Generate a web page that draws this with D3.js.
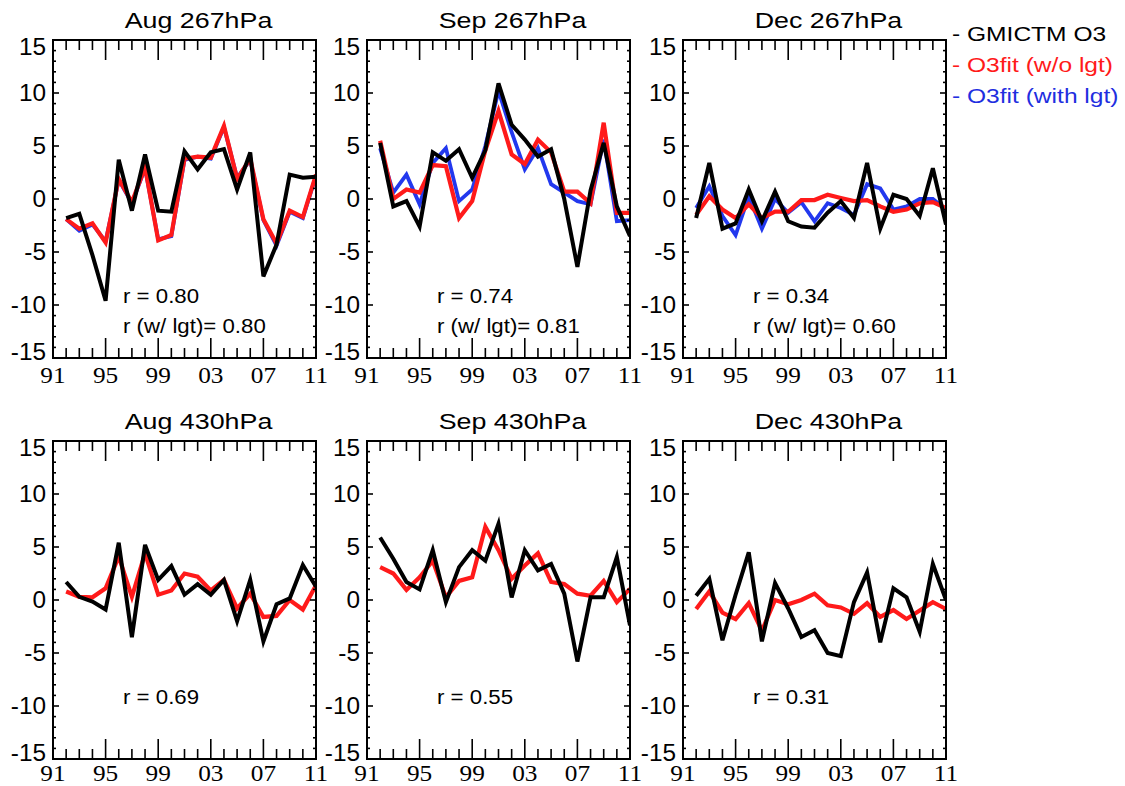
<!DOCTYPE html>
<html>
<head>
<meta charset="utf-8">
<script src="https://cdn.jsdelivr.net/npm/d3@7"></script>
<style>
  body { margin: 0; background: #fff; }
  svg { display: block; }
  .sans { font-family: "Liberation Sans", Arial, Helvetica, sans-serif; }
  .serif { font-family: "Liberation Serif", "Times New Roman", serif; }
</style>
</head>
<body>
<svg id="chart" width="1125" height="786"></svg>
<script>
// years of the anomalies (1992-2011)
var years = d3.range(1992, 2012);

// 267 hPa
var augGmi267 = [-1.8, -1.4, -5.3, -9.6, 3.7, -1.1, 4.2, -1.1, -1.2, 4.5, 2.8, 4.4, 4.7, 0.9, 4.4, -7.3, -4.3, 2.3, 2.0, 2.1];
var augFit267 = [-1.9, -2.8, -2.3, -4.1, 1.9, -0.3, 3.0, -3.9, -3.4, 3.8, 4.0, 3.9, 6.9, 1.9, 3.8, -1.9, -4.2, -1.1, -1.7, 2.3];
var augFitL267 = [-1.9, -3.0, -2.4, -4.0, 1.8, -0.4, 2.9, -3.8, -3.5, 3.7, 4.0, 3.8, 6.8, 2.0, 3.7, -2.0, -4.4, -1.2, -1.8, 2.2];

var sepGmi267 = [5.3, -0.7, -0.2, -2.6, 4.4, 3.6, 4.7, 2.0, 4.6, 10.9, 7.0, 5.6, 4.0, 4.7, 0.0, -6.4, 0.8, 5.3, -0.7, -3.5];
var sepFit267 = [5.5, 0.0, 0.9, 0.6, 3.2, 3.1, -1.8, -0.2, 4.6, 8.3, 4.2, 3.3, 5.6, 4.4, 0.7, 0.7, -0.4, 7.2, -1.3, -1.3];
var sepFitL267 = [4.8, 0.6, 2.3, -0.5, 3.4, 4.8, -0.2, 0.9, 5.0, 10.2, 6.3, 2.8, 4.8, 1.4, 0.6, -0.2, -0.5, 5.6, -2.1, -2.0];

var decGmi267 = [-1.8, 3.4, -2.8, -2.3, 0.9, -2.1, 0.7, -2.1, -2.6, -2.7, -1.3, -0.2, -1.8, 3.4, -2.8, 0.4, 0.0, -1.6, 2.9, -2.4];
var decFit267 = [-1.5, 0.25, -1.0, -1.8, -0.5, -1.8, -1.2, -1.2, -0.1, -0.1, 0.4, 0.1, -0.2, -0.1, -0.7, -1.2, -1.0, -0.4, -0.3, -0.85];
var decFitL267 = [-0.85, 1.2, -1.6, -3.4, 0.25, -2.8, 0.0, -1.3, -0.3, -2.1, -0.4, -0.85, -1.5, 1.4, 1.0, -1.0, -0.7, 0.0, 0.0, -1.0];

// 430 hPa
var augGmi430 = [1.7, 0.3, -0.15, -0.9, 5.4, -3.5, 5.2, 1.9, 3.2, 0.5, 1.5, 0.5, 1.9, -2.0, 1.9, -3.9, -0.4, 0.15, 3.3, 1.25];
var augFit430 = [0.8, 0.3, 0.25, 1.1, 4.1, 0.3, 4.4, 0.5, 0.9, 2.5, 2.2, 0.9, 1.9, -0.8, 0.6, -1.6, -1.5, 0.0, -0.9, 1.4];

var sepGmi430 = [5.9, 3.9, 1.7, 1.0, 4.7, -0.2, 3.1, 4.7, 3.7, 7.2, 0.25, 4.7, 2.8, 3.4, 0.6, -5.8, 0.25, 0.25, 4.05, -2.4];
var sepFit430 = [3.1, 2.5, 0.95, 2.15, 3.7, 0.25, 1.8, 2.15, 6.9, 4.7, 2.0, 3.25, 4.4, 1.7, 1.5, 0.6, 0.4, 1.8, -0.2, 1.05];

var decGmi430 = [0.4, 2.0, -3.8, 0.5, 4.5, -3.9, 1.6, -0.8, -3.5, -2.85, -5.0, -5.3, -0.2, 2.6, -4.0, 1.1, 0.25, -3.0, 3.4, 0.0];
var decFit430 = [-0.85, 0.8, -1.2, -1.8, -0.3, -2.9, 0.0, -0.4, 0.0, 0.6, -0.5, -0.7, -1.3, -0.3, -1.6, -0.95, -1.8, -1.0, -0.2, -0.85];

// panel titles and correlation notes
var titles = ['Aug 267hPa', 'Sep 267hPa', 'Dec 267hPa', 'Aug 430hPa', 'Sep 430hPa', 'Dec 430hPa'];
var corr = ['0.80', '0.74', '0.34', '0.69', '0.55', '0.31'];
var corrLgt = ['0.80', '0.81', '0.60', null, null, null];

var legendLabels = ['- GMICTM O3', '- O3fit (w/o lgt)', '- O3fit (with lgt)'];
var legendColors = ['#000', '#ff1a1a', '#1f2fe0'];

var panels = [
  { gmi: augGmi267, fit: augFit267, fitL: augFitL267 },
  { gmi: sepGmi267, fit: sepFit267, fitL: sepFitL267 },
  { gmi: decGmi267, fit: decFit267, fitL: decFitL267 },
  { gmi: augGmi430, fit: augFit430, fitL: null },
  { gmi: sepGmi430, fit: sepFit430, fitL: null },
  { gmi: decGmi430, fit: decFit430, fitL: null }
];

var svg = d3.select('#chart');

var colLeft = [53, 367, 683],
  rowTop = [40, 441],
  pw = 263,
  ph = 318;

var xTickVals = d3.range(1991, 2012);
var xLabels = ['91', '95', '99', '03', '07', '11'];
var yTickVals = d3.range(-15, 16);

// the original fonts are a bit wider than Liberation Sans, so stretch a little
function label(sel, x, y, txt, size, stretch, anchor) {
  return sel.append('text')
    .attr('class', 'sans')
    .attr('transform', `translate(${x},${y}) scale(${stretch},1)`)
    .attr('text-anchor', anchor || 'start')
    .attr('font-size', size)
    .text(txt);
}

panels.forEach(function(p, i) {
  var col = i % 3, row = Math.floor(i / 3);
  var g = svg.append('g')
    .attr('transform', `translate(${colLeft[col]},${rowTop[row]})`);

  var x = d3.scaleLinear().domain([1991, 2011]).range([0, pw]);
  var y = d3.scaleLinear().domain([-15, 15]).range([ph, 0]);

  var line = d3.line()
    .x((d, k) => x(years[k]))
    .y(d => y(d));

  var clip = 'clip' + i;
  g.append('clipPath').attr('id', clip)
    .append('rect').attr('width', pw).attr('height', ph);

  var lines = g.append('g').attr('clip-path', `url(#${clip})`);

  // blue under red under black, as in the original plot
  if (p.fitL) {
    lines.append('path').datum(p.fitL)
      .attr('d', line).attr('fill', 'none')
      .attr('stroke', '#2238ee').attr('stroke-width', 3.8);
  }
  lines.append('path').datum(p.fit)
    .attr('d', line).attr('fill', 'none')
    .attr('stroke', '#ff1a1a').attr('stroke-width', 4.2);
  lines.append('path').datum(p.gmi)
    .attr('d', line).attr('fill', 'none')
    .attr('stroke', '#000').attr('stroke-width', 4);

  // ticks: bottom/top every year, long every 4 years
  var ticks = g.append('g').attr('stroke', '#000').attr('stroke-width', 1.6);
  xTickVals.forEach(function(yr) {
    var len = (yr - 1991) % 4 === 0 ? 20 : 10;
    ticks.append('line').attr('x1', x(yr)).attr('x2', x(yr)).attr('y1', ph).attr('y2', ph - len);
    ticks.append('line').attr('x1', x(yr)).attr('x2', x(yr)).attr('y1', 0).attr('y2', len);
  });
  // ticks: left/right every unit, long every 5
  yTickVals.forEach(function(v) {
    var len = v % 5 === 0 ? 6 : 3;
    ticks.append('line').attr('x1', 0).attr('x2', len).attr('y1', y(v)).attr('y2', y(v));
    ticks.append('line').attr('x1', pw).attr('x2', pw - len).attr('y1', y(v)).attr('y2', y(v));
  });

  g.append('rect')
    .attr('width', pw).attr('height', ph)
    .attr('fill', 'none').attr('stroke', '#000').attr('stroke-width', 2);

  // y labels
  [-15, -10, -5, 0, 5, 10, 15].forEach(function(v) {
    var shift = v === 15 ? 7 : (v === -15 ? -6 : 0);
    label(g, -7, y(v) + shift + 8, v, 23, 1.06, 'end');
  });

  // x labels (bottom row sits right at the page edge, nudge it up a bit)
  var xLabY = row === 0 ? ph + 25 : ph + 22;
  xLabels.forEach(function(lab, k) {
    g.append('text').attr('class', 'serif')
      .attr('transform', `translate(${x(1991 + k * 4)},${xLabY}) scale(1.1,1)`)
      .attr('text-anchor', 'middle')
      .attr('font-size', 23)
      .text(lab);
  });

  label(g, pw / 2 + 14, -12, titles[i], 22, 1.22, 'middle');

  label(g, 70, 263, 'r = ' + corr[i], 21, 1.06);
  if (corrLgt[i]) {
    label(g, 70, 293, 'r (w/ lgt)= ' + corrLgt[i], 21, 1.06);
  }
});

// legend
var legend = svg.append('g').attr('transform', 'translate(952,41)');
legendLabels.forEach(function(lab, k) {
  label(legend, 0, k * 31, lab, 21, 1.17).attr('fill', legendColors[k]);
});
</script>
</body>
</html>
